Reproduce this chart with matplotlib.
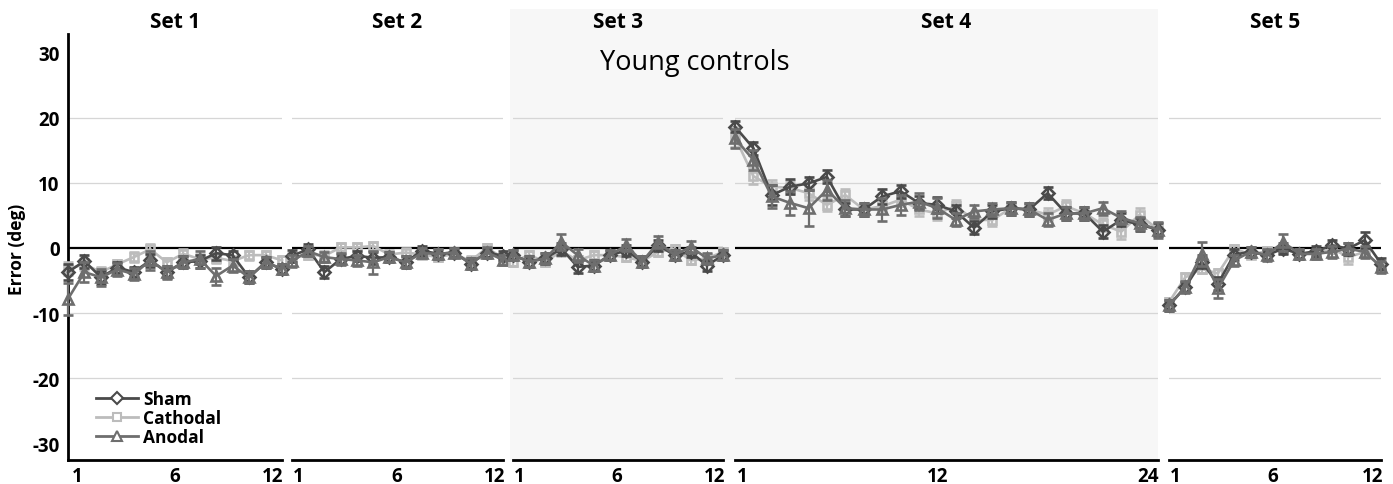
"""Young controls: error per trial across 5 sets, sham / cathodal / anodal."""

import matplotlib
matplotlib.use("Agg")
import matplotlib.pyplot as plt
from matplotlib.patches import Rectangle
from matplotlib.lines import Line2D

plt.rcParams["font.family"] = ["Open Sans", "DejaVu Sans"]
plt.rcParams["axes.unicode_minus"] = False

# ── data ────────────────────────────────────────
set_names = ["Set 1", "Set 2", "Set 3", "Set 4", "Set 5"]
tick_labels = [["1", "6", "12"], ["1", "6", "12"], ["1", "6", "12"],
               ["1", "12", "24"], ["1", "6", "12"]]
y_ticks = [30, 20, 10, 0, -10, -20, -30]

sham1 = [-3.7, -2.0, -4.5, -3.0, -3.7, -1.9, -3.7, -2.2, -2.0, -0.8, -1.1, -4.5, -2.2, -3.2]
cath1 = [-3.2, -2.5, -3.7, -2.5, -1.4, -0.2, -2.2, -0.9, -1.7, -1.5, -2.0, -1.1, -1.1, -1.9]
anod1 = [-7.8, -3.7, -4.5, -3.3, -4.0, -1.9, -3.7, -2.2, -1.7, -4.3, -2.7, -4.5, -2.2, -3.2]
sham1_err = [1.2, 1.0, 1.0, 0.8, 0.8, 1.0, 0.9, 0.9, 1.0, 1.0, 0.6, 0.9, 0.8, 0.8]
cath1_err = [1.0, 0.8, 0.8, 0.6, 0.8, 0.8, 0.6, 0.8, 0.8, 0.8, 0.7, 0.7, 0.7, 0.7]
anod1_err = [2.5, 1.5, 1.3, 1.0, 0.9, 1.5, 1.0, 0.9, 1.3, 1.3, 1.0, 0.9, 0.8, 0.8]

sham2 = [-1.2, -0.2, -3.7, -1.7, -1.2, -1.5, -1.4, -2.2, -0.4, -0.9, -0.7, -2.4, -0.7, -1.2]
cath2 = [-1.5, -1.0, -1.2, 0.1, 0.1, 0.3, -1.0, -0.7, -1.0, -1.4, -0.9, -2.0, 0.0, -1.5]
anod2 = [-2.0, -0.5, -1.4, -1.7, -1.9, -2.2, -1.4, -2.2, -0.8, -0.9, -0.7, -2.4, -0.7, -1.8]
sham2_err = [0.9, 0.8, 0.9, 0.8, 0.8, 0.9, 0.8, 0.9, 0.7, 0.8, 0.7, 0.8, 0.7, 0.7]
cath2_err = [0.7, 0.7, 0.7, 0.6, 0.6, 0.6, 0.7, 0.7, 0.6, 0.6, 0.6, 0.7, 0.6, 0.6]
anod2_err = [0.9, 0.8, 0.8, 0.9, 0.9, 1.8, 0.8, 0.9, 0.8, 0.8, 0.7, 0.8, 0.8, 0.8]

sham3 = [-1.1, -2.1, -1.6, -0.1, -2.9, -2.7, -1.1, -0.4, -2.1, 0.4, -1.1, -0.6, -2.7, -1.1]
cath3 = [-2.1, -1.1, -2.1, -0.5, -1.9, -1.1, -1.1, -1.4, -2.0, -0.6, -0.1, -1.9, -1.6, -0.6]
anod3 = [-1.1, -2.1, -1.6, 0.9, -1.1, -2.7, -1.1, 0.4, -2.1, 0.9, -1.1, 0.2, -1.6, -1.1]
sham3_err = [0.8, 0.8, 0.8, 0.9, 0.9, 0.8, 0.8, 0.8, 0.8, 0.8, 0.8, 0.8, 0.8, 0.8]
cath3_err = [0.6, 0.6, 0.6, 0.7, 0.7, 0.6, 0.6, 0.6, 0.6, 0.6, 0.6, 0.6, 0.6, 0.6]
anod3_err = [0.8, 0.8, 0.9, 1.2, 1.0, 0.8, 0.8, 0.9, 0.8, 0.9, 0.8, 0.9, 0.8, 0.8]

sham4 = [18.6, 15.3, 8.1, 9.4, 9.9, 10.9, 5.9, 5.9, 7.9, 8.7, 6.9, 6.6,
         5.6, 3.1, 5.6, 6.1, 5.9, 8.4, 5.3, 5.3, 2.5, 4.3, 3.6, 2.8]
cath4 = [17.0, 11.0, 9.4, 9.2, 8.4, 6.6, 8.1, 5.9, 6.4, 7.4, 5.9, 5.3,
         6.4, 4.3, 4.3, 6.1, 5.9, 5.1, 6.4, 5.3, 3.6, 2.5, 5.1, 2.8]
anod4 = [16.8, 13.5, 7.9, 6.9, 6.1, 8.9, 6.1, 5.9, 5.9, 6.6, 7.1, 6.1,
         4.3, 5.6, 5.9, 6.1, 5.9, 4.3, 5.3, 5.3, 6.1, 4.6, 3.8, 2.8]
sham4_err = [0.8, 1.0, 1.5, 1.2, 1.0, 1.0, 1.0, 1.0, 1.2, 1.0, 1.0, 1.2,
             1.0, 1.0, 1.0, 1.0, 1.0, 0.9, 1.0, 1.0, 1.0, 1.0, 1.0, 1.0]
cath4_err = [1.5, 1.2, 1.0, 1.0, 1.0, 1.0, 1.0, 1.0, 1.0, 1.0, 1.0, 1.0,
             1.0, 1.0, 1.0, 0.8, 0.8, 1.0, 1.0, 1.0, 1.0, 1.2, 1.0, 1.0]
anod4_err = [1.5, 1.5, 1.8, 1.8, 2.8, 1.5, 1.2, 1.0, 1.8, 1.5, 1.3, 1.5,
             1.0, 1.0, 1.0, 1.0, 1.0, 1.0, 1.0, 1.0, 1.0, 1.0, 1.0, 1.2]

sham5 = [-8.8, -6.0, -2.1, -5.5, -1.0, -0.6, -1.1, -0.1, -0.9, -0.5, 0.4, -0.1, 1.2, -2.4]
cath5 = [-8.3, -4.5, -3.2, -3.9, -0.1, -1.0, -0.5, -0.1, -0.9, -0.9, -0.1, -1.4, -0.6, -2.9]
anod5 = [-8.8, -6.0, -0.9, -6.2, -1.9, -0.6, -1.1, 0.9, -0.9, -0.9, -0.6, -0.1, -0.6, -2.9]
sham5_err = [0.8, 0.8, 1.0, 1.0, 0.8, 0.8, 0.8, 0.8, 0.8, 0.8, 0.8, 0.9, 1.2, 0.8]
cath5_err = [0.7, 0.7, 0.7, 0.7, 0.6, 0.6, 0.6, 0.6, 0.6, 0.6, 0.6, 1.0, 0.7, 0.7]
anod5_err = [0.9, 0.9, 1.8, 1.4, 0.9, 0.8, 0.9, 1.3, 0.8, 0.8, 0.9, 0.8, 0.9, 0.9]

sham = [sham1, sham2, sham3, sham4, sham5]
cath = [cath1, cath2, cath3, cath4, cath5]
anod = [anod1, anod2, anod3, anod4, anod5]
sham_err = [sham1_err, sham2_err, sham3_err, sham4_err, sham5_err]
cath_err = [cath1_err, cath2_err, cath3_err, cath4_err, cath5_err]
anod_err = [anod1_err, anod2_err, anod3_err, anod4_err, anod5_err]

# ── layout (pixels of a 1393x485 canvas) ───────
W, H = 1393, 485
PANELS = [(68, 282), (292, 503), (513, 723), (735, 1158), (1169, 1381)]
TICK_FRAC = [[0.042, 0.5, 0.958], [0.03, 0.498, 0.962], [0.03, 0.495, 0.962],
             [0.017, 0.478, 0.976], [0.03, 0.49, 0.958]]
Y_TOP, Y_BOT = 35, 461

C_SHAM, C_CATH, C_ANOD = "#4a4a4a", "#bcbcbc", "#6e6e6e"

fig = plt.figure(figsize=(W / 100, H / 100), dpi=100)
fig.patches.append(Rectangle((510 / W, (H - Y_BOT) / H), (1158 - 510) / W,
                             (Y_BOT - 10) / H, transform=fig.transFigure,
                             facecolor="#f7f7f7", edgecolor="none", zorder=-5))

axes = []
for i, (x0, x1) in enumerate(PANELS):
    ax = fig.add_axes([x0 / W, (H - Y_BOT) / H, (x1 - x0) / W, (Y_BOT - Y_TOP) / H])
    ax.set_facecolor("none")
    n = len(sham[i])
    xs = list(range(1, n + 1))
    ax.set_xlim(1, n)
    ax.set_ylim(-32.5, 32.8)

    for g in (20, 10, -10, -20):
        ax.axhline(g, color="#d6d6d6", lw=0.9, zorder=1)
    ax.axhline(0, color="black", lw=1.6, zorder=1.5)

    for ys, es, c, m, z in [(cath[i], cath_err[i], C_CATH, "s", 3),
                            (sham[i], sham_err[i], C_SHAM, "D", 4),
                            (anod[i], anod_err[i], C_ANOD, "^", 5)]:
        ax.errorbar(xs, ys, yerr=es, color=c, lw=1.9, marker=m,
                    ms=6 if m != "^" else 7.5, mfc="none", mew=1.9,
                    elinewidth=1.6, capsize=3.3, capthick=1.6,
                    clip_on=False, zorder=z)

    ax.set_xticks([1 + f * (n - 1) for f in TICK_FRAC[i]])
    ax.set_xticklabels(tick_labels[i], fontsize=13.5, fontweight="bold")
    ax.tick_params(axis="x", length=0, pad=4)

    for s in ("top", "right"):
        ax.spines[s].set_visible(False)
    ax.spines["bottom"].set_linewidth(2)
    if i == 0:
        ax.spines["left"].set_linewidth(2)
        ax.set_yticks(y_ticks)
        ax.set_yticklabels([str(v) for v in y_ticks], fontsize=13.5, fontweight="bold")
        ax.tick_params(axis="y", length=0, pad=6)
    else:
        ax.spines["left"].set_visible(False)
        ax.set_yticks([])

    fig.text((x0 + x1) / 2 / W, (H - 22) / H, set_names[i], ha="center",
             va="center", fontsize=15, fontweight="bold")
    axes.append(ax)

fig.text(17 / W, (H - 249) / H, "Error (deg)", rotation=90, ha="center",
         va="center", fontsize=12.5, fontweight="bold")
fig.text(695 / W, (H - 63) / H, "Young controls", ha="center", va="center",
         fontsize=19.5)

# legend
handles = [Line2D([], [], color=C_SHAM, marker="D", ms=6, mfc="white", mew=1.5, lw=2),
           Line2D([], [], color=C_CATH, marker="s", ms=6, mfc="white", mew=1.5, lw=2),
           Line2D([], [], color=C_ANOD, marker="^", ms=7.5, mfc="white", mew=1.5, lw=2)]
axes[0].legend(handles, ["Sham", "Cathodal", "Anodal"], loc="lower left",
               bbox_to_anchor=(0.09, 0.012), frameon=False, borderpad=0,
               handlelength=2.4, handletextpad=0.3, labelspacing=0.05,
               prop={"size": 12.5, "weight": "bold"})

fig.savefig("out.png", dpi=100)
